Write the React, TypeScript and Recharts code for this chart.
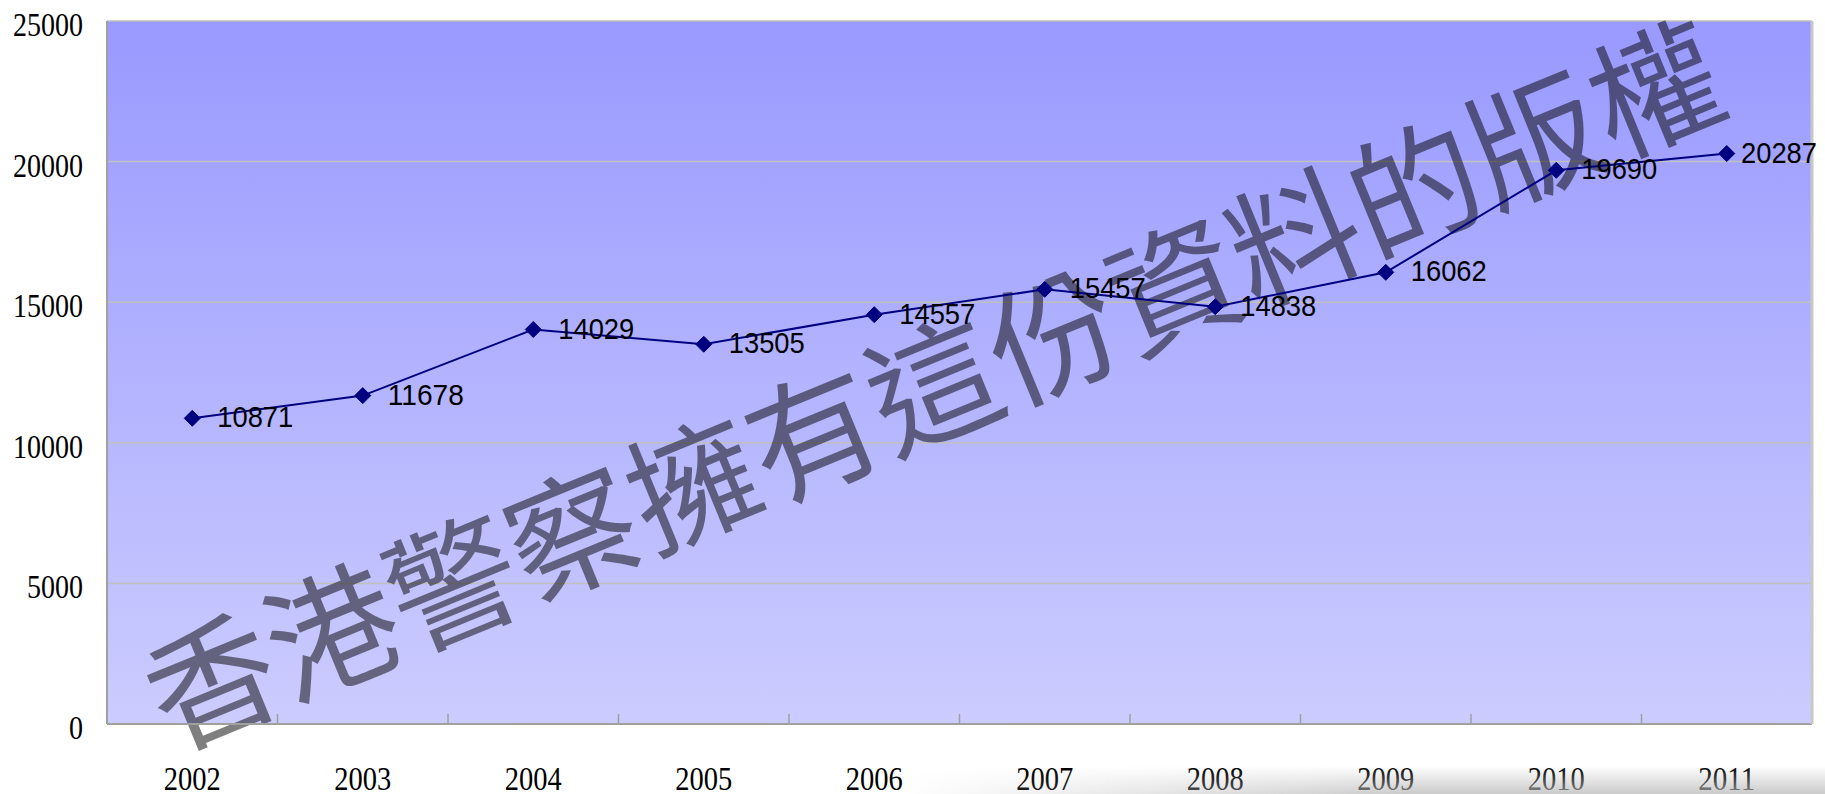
import React from 'react';
import {
  LineChart,
  Line,
  XAxis,
  YAxis,
  CartesianGrid,
  ReferenceArea,
} from 'recharts';

const categories = ['2002', '2003', '2004', '2005', '2006', '2007', '2008', '2009', '2010', '2011'];
const values = [10871, 11678, 14029, 13505, 14557, 15457, 14838, 16062, 19690, 20287];
const yTicks = [0, 5000, 10000, 15000, 20000, 25000];
const watermark = '香港警察擁有這份資料的版權';

const data = categories.map((c, i) => ({ year: c, value: values[i] }));

const W = 1825;
const H = 794;
const LEFT_W = 107;
const RIGHT_W = 13;
const X_H = 70;
const TOP = 21;
const PLOT_W = W - LEFT_W - RIGHT_W;
const BAND = PLOT_W / categories.length;
const AXIS_Y = H - X_H;

const XTick = (props: any) => {
  const { x, payload, index } = props;
  return (
    <g>
      {index > 0 && (
        <line x1={x - BAND / 2} x2={x - BAND / 2} y1={AXIS_Y} y2={AXIS_Y - 10} stroke="#a0a0a0" strokeWidth={1.5} />
      )}
      <text
        x={x}
        y={AXIS_Y + 66}
        textAnchor="middle"
        fontFamily="'Liberation Serif', serif"
        fontSize={33}
        fill="#000"
        textLength={57}
        lengthAdjust="spacingAndGlyphs"
      >
        {payload.value}
      </text>
    </g>
  );
};

const YTick = (props: any) => {
  const { y, payload } = props;
  const s = String(payload.value);
  return (
    <text
      x={LEFT_W - 24}
      y={y + 15}
      textAnchor="end"
      fontFamily="'Liberation Serif', serif"
      fontSize={33}
      fill="#000"
      textLength={s.length * 14}
      lengthAdjust="spacingAndGlyphs"
    >
      {s}
    </text>
  );
};

const Diamond = (props: any) => {
  const { cx, cy, index } = props;
  if (cx == null || cy == null) return <g key={`d-${index}`} />;
  const r = 8;
  return (
    <polygon
      key={`d-${index}`}
      points={`${cx},${cy - r} ${cx + r},${cy} ${cx},${cy + r} ${cx - r},${cy}`}
      fill="#000080"
      stroke="#000080"
      strokeWidth={1}
    />
  );
};

const ValueLabel = (props: any) => {
  const { x, y, value } = props;
  const s = String(value);
  const tw = s.length * 15.2;
  const lx = Math.min(x + 25, W - 8 - tw);
  return (
    <text
      x={lx}
      y={y + 9}
      fontFamily="'Liberation Sans', Arial, sans-serif"
      fontSize={30}
      fill="#000"
      textLength={tw}
      lengthAdjust="spacingAndGlyphs"
    >
      {s}
    </text>
  );
};

const Watermark = (props: any) => {
  const vb = props.viewBox || {};
  const cx = vb.x + vb.width * 0.483;
  const cy = vb.y + vb.height * 0.508;
  return (
    <text
      x={cx}
      y={cy}
      transform={`rotate(-22.3 ${cx} ${cy})`}
      textAnchor="middle"
      dominantBaseline="central"
      fontFamily="'Noto Sans CJK TC', 'Noto Sans CJK SC', sans-serif"
      fontSize={130}
      fill="#000"
      fillOpacity={0.5}
    >
      {watermark}
    </text>
  );
};

export default function App() {
  return (
    <div style={{ position: 'absolute', left: 0, top: 0, width: W, height: H, background: '#fff', overflow: 'hidden' }}>
      <LineChart width={W} height={H} data={data} margin={{ top: TOP, right: 0, bottom: 0, left: 0 }}>
        <defs>
          <linearGradient id="bgGrad" x1="0" y1="0" x2="0" y2="1">
            <stop offset="0%" stopColor="#9999ff" />
            <stop offset="100%" stopColor="#ccccff" />
          </linearGradient>
        </defs>
        <CartesianGrid vertical={false} stroke="#c0c0c0" strokeWidth={1.5} fill="url(#bgGrad)" fillOpacity={1} />
        <XAxis
          dataKey="year"
          scale="band"
          height={X_H}
          interval={0}
          tickSize={0}
          tickMargin={0}
          tickLine={false}
          tick={<XTick />}
          axisLine={{ stroke: '#a0a0a0', strokeWidth: 2 }}
        />
        <YAxis
          width={LEFT_W}
          domain={[0, 25000]}
          ticks={yTicks}
          tickSize={0}
          tickMargin={0}
          tickLine={false}
          tick={<YTick />}
          axisLine={{ stroke: '#a0a0a0', strokeWidth: 2 }}
        />
        <YAxis
          yAxisId="right"
          orientation="right"
          width={RIGHT_W}
          domain={[0, 25000]}
          tick={false}
          tickLine={false}
          axisLine={{ stroke: '#c8c8c8', strokeWidth: 3 }}
        />
        <ReferenceArea
          y1={0}
          y2={25000}
          fill="none"
          fillOpacity={0}
          stroke="none"
          ifOverflow="visible"
          label={(p: any) => <Watermark {...p} />}
        />
        <Line
          type="linear"
          dataKey="value"
          stroke="#000080"
          strokeWidth={2}
          dot={(p: any) => <Diamond {...p} />}
          activeDot={false}
          label={(p: any) => <ValueLabel key={`l-${p.index}`} {...p} />}
          isAnimationActive={false}
        />
      </LineChart>
      <div
        style={{
          position: 'absolute',
          left: 900,
          top: H - 28,
          width: W - 900,
          height: 28,
          background: 'linear-gradient(to bottom, rgba(255,255,255,0), rgba(185,185,185,0.75))',
          WebkitMaskImage: 'linear-gradient(to right, transparent, black 55%)',
          maskImage: 'linear-gradient(to right, transparent, black 55%)',
        }}
      />
    </div>
  );
}
